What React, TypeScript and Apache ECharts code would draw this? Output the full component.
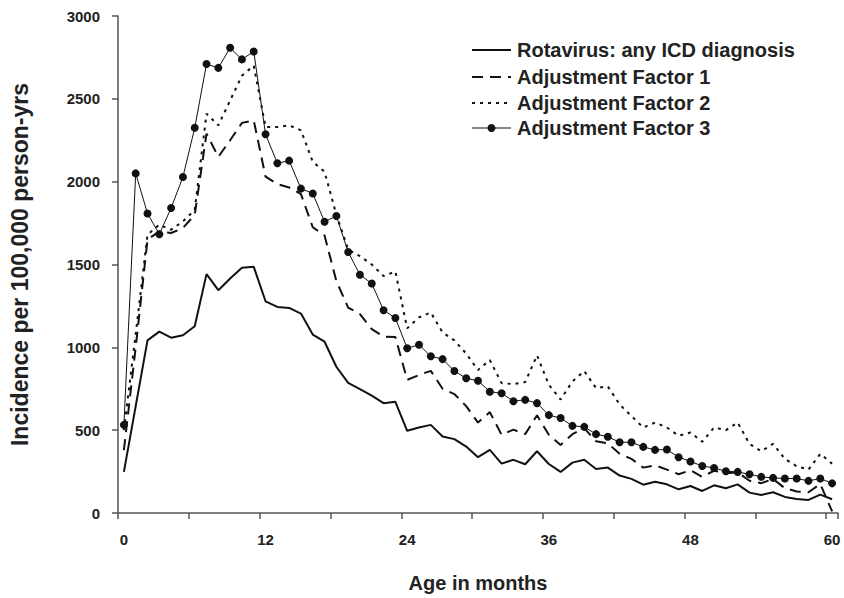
import React, { useEffect, useRef } from "react";
import * as echarts from "echarts";

const months = [
  "0", "1", "2", "3", "4", "5", "6", "7", "8", "9", "10", "11", "12", "13", "14", "15", "16", "17", "18", "19", "20",
  "21", "22", "23", "24", "25", "26", "27", "28", "29", "30", "31", "32", "33", "34", "35", "36", "37", "38", "39", "40",
  "41", "42", "43", "44", "45", "46", "47", "48", "49", "50", "51", "52", "53", "54", "55", "56", "57", "58", "59", "60",
];

const rotavirus = [
  248, 645, 1042, 1095, 1058, 1073, 1127, 1442, 1345, 1415, 1480, 1486, 1278, 1244, 1238, 1204, 1077, 1034, 883, 785,
  748, 708, 663, 671, 496, 516, 532, 462, 446, 401, 337, 381, 298, 321, 294, 373, 296, 248, 304, 321,
  266, 274, 226, 206, 171, 189, 173, 143, 163, 133, 167, 149, 173, 123, 109, 125, 97, 85, 79, 111, 83,
];

const factor1 = [
  380, 1000, 1650, 1700, 1690, 1720, 1800, 2290, 2150, 2250, 2355, 2370, 2030, 1985, 1965, 1925, 1725, 1675, 1400, 1240,
  1200, 1110, 1065, 1062, 804, 833, 858, 750, 718, 645, 546, 609, 472, 503, 476, 590, 472, 410, 476, 512,
  433, 421, 357, 327, 274, 288, 262, 234, 258, 218, 255, 240, 245, 195, 180, 205, 150, 130, 125, 175, 10,
];

const factor2 = [
  500, 1080, 1680, 1740, 1710, 1760, 1830, 2410, 2340, 2490, 2640, 2700, 2330, 2330, 2340, 2310, 2120, 2060, 1800, 1590,
  1550, 1500, 1430, 1458, 1115, 1181, 1210, 1090, 1042, 962, 863, 923, 784, 778, 790, 952, 774, 685, 794, 857,
  754, 764, 655, 585, 516, 546, 516, 466, 486, 430, 516, 500, 546, 417, 373, 417, 327, 282, 262, 357, 298,
];

const factor3 = [
  532, 2050, 1808, 1683, 1841, 2028, 2325, 2710, 2687, 2808, 2738, 2786, 2286, 2111, 2127, 1958, 1929, 1758, 1793, 1575,
  1438, 1385, 1224, 1177, 994, 1016, 946, 929, 857, 813, 798, 732, 723, 675, 683, 663, 591, 573, 526, 520,
  476, 460, 427, 427, 399, 381, 383, 337, 311, 284, 272, 252, 248, 234, 218, 212, 208, 208, 194, 208, 179,
];

const seriesNames = [
  "Rotavirus: any ICD diagnosis",
  "Adjustment Factor 1",
  "Adjustment Factor 2",
  "Adjustment Factor 3",
];

const FONT = "'Liberation Sans', Arial, sans-serif";
const INK = "#111";
const TEXT = "#222";

const dashes: (number[] | null)[] = [null, [11, 7], [3, 5], null];
const widths = [2, 2, 2, 1];

export default function App() {
  const ref = useRef<HTMLDivElement>(null);

  useEffect(() => {
    if (!ref.current) return;
    const chart = echarts.init(ref.current, undefined, { renderer: "svg" });
    const axisColor = "#555";

    const legendRows = [50, 77, 103, 128];
    const legendGraphics: any[] = [];
    seriesNames.forEach((name, i) => {
      const y = legendRows[i];
      legendGraphics.push({
        type: "line",
        shape: { x1: 472, y1: y, x2: 511, y2: y },
        style: { stroke: INK, lineWidth: widths[i], lineDash: dashes[i] || undefined },
      });
      if (i === 3) {
        legendGraphics.push({
          type: "circle",
          shape: { cx: 491.5, cy: y, r: 4 },
          style: { fill: INK },
        });
      }
      legendGraphics.push({
        type: "text",
        x: 517,
        y,
        style: {
          text: name,
          font: `bold 20px ${FONT}`,
          fill: TEXT,
          textVerticalAlign: "middle",
          verticalAlign: "middle",
        },
      });
    });

    chart.setOption({
      animation: false,
      backgroundColor: "#fff",
      textStyle: { fontFamily: FONT },
      grid: { left: 106, right: 6, top: 16, bottom: 78, containLabel: false },
      graphic: legendGraphics,
      xAxis: {
        type: "category",
        data: months,
        boundaryGap: true,
        name: "Age in months",
        nameLocation: "middle",
        nameGap: 60,
        nameTextStyle: { fontFamily: FONT, fontWeight: "bold", fontSize: 20, color: TEXT },
        axisLine: { lineStyle: { color: axisColor, width: 1.5 } },
        axisTick: { show: true, interval: 5, length: 6, inside: false, lineStyle: { color: axisColor, width: 1.5 } },
        axisLabel: { interval: 11, margin: 19, fontFamily: FONT, fontWeight: "bold", fontSize: 15, color: TEXT },
        splitLine: { show: false },
      },
      yAxis: {
        type: "value",
        min: 0,
        max: 3000,
        interval: 500,
        name: "Incidence per 100,000 person-yrs",
        nameLocation: "middle",
        nameGap: 87,
        nameRotate: 90,
        nameTextStyle: { fontFamily: FONT, fontWeight: "bold", fontSize: 23, color: TEXT },
        axisLine: { show: true, lineStyle: { color: axisColor, width: 1.5 } },
        axisTick: { show: true, length: 6, lineStyle: { color: axisColor, width: 1.5 } },
        axisLabel: {
          margin: 18,
          fontFamily: FONT,
          fontWeight: "bold",
          fontSize: 15,
          color: TEXT,
          formatter: (v: number) => String(v),
        },
        splitLine: { show: false },
      },
      series: [
        {
          name: seriesNames[0],
          type: "line",
          data: rotavirus,
          symbol: "none",
          lineStyle: { color: INK, width: 2 },
          itemStyle: { color: INK },
        },
        {
          name: seriesNames[1],
          type: "line",
          data: factor1,
          symbol: "none",
          lineStyle: { color: INK, width: 2, type: [11, 7] },
          itemStyle: { color: INK },
        },
        {
          name: seriesNames[2],
          type: "line",
          data: factor2,
          symbol: "none",
          lineStyle: { color: INK, width: 2, type: [3, 5] },
          itemStyle: { color: INK },
        },
        {
          name: seriesNames[3],
          type: "line",
          data: factor3,
          symbol: "circle",
          symbolSize: 8,
          showAllSymbol: true,
          lineStyle: { color: INK, width: 1 },
          itemStyle: { color: INK },
        },
      ],
    });
    return () => chart.dispose();
  }, []);

  return (
    <div
      ref={ref}
      style={{ position: "fixed", left: 0, top: 0, width: 844, height: 598, background: "#fff" }}
    />
  );
}
